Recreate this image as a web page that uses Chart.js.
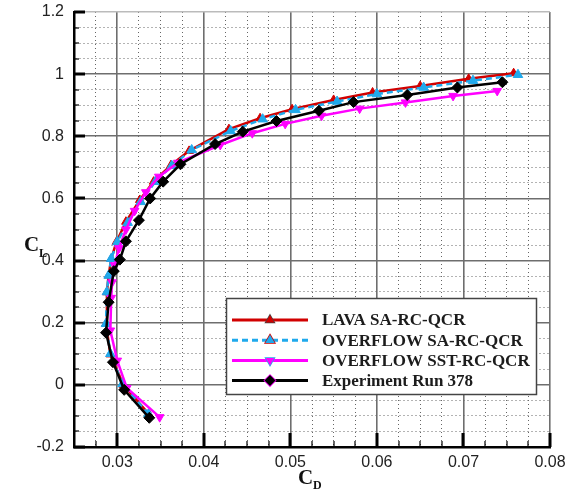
<!DOCTYPE html>
<html>
<head>
<meta charset="utf-8">
<script src="https://cdn.jsdelivr.net/npm/chart.js@4.4.1/dist/chart.umd.min.js"></script>
<style>
  html, body { margin: 0; padding: 0; background: #fff; }
</style>
</head>
<body>
<canvas id="dragPolar" width="566" height="493"></canvas>
<script>
// drag polar: C_D on x, C_L on y
const lavaCD = [0.0337, 0.0307, 0.0292, 0.0287, 0.0288, 0.0290, 0.0293, 0.0299, 0.0310, 0.0326, 0.0342, 0.0362, 0.0383, 0.0429, 0.0465, 0.0502, 0.0550, 0.0595, 0.0650, 0.0706, 0.0758];
const lavaCL = [-0.096, 0.000, 0.098, 0.197, 0.298, 0.352, 0.405, 0.460, 0.525, 0.595, 0.654, 0.707, 0.753, 0.823, 0.858, 0.887, 0.917, 0.941, 0.962, 0.985, 1.003];

const ovfSaCD = [0.0336, 0.0306, 0.0292, 0.0287, 0.0288, 0.0290, 0.0293, 0.0300, 0.0312, 0.0327, 0.0344, 0.0363, 0.0386, 0.0431, 0.0468, 0.0506, 0.0554, 0.0600, 0.0654, 0.0711, 0.0763];
const ovfSaCL = [-0.094, 0.003, 0.100, 0.197, 0.299, 0.352, 0.406, 0.460, 0.522, 0.589, 0.654, 0.705, 0.756, 0.817, 0.855, 0.885, 0.912, 0.936, 0.957, 0.979, 0.998];

const ovfSstCD = [0.0349, 0.0311, 0.0300, 0.0292, 0.0293, 0.0294, 0.0297, 0.0302, 0.0310, 0.0320, 0.0333, 0.0348, 0.0370, 0.0419, 0.0456, 0.0494, 0.0536, 0.0580, 0.0633, 0.0688, 0.0739];
const ovfSstCL = [-0.104, -0.010, 0.078, 0.175, 0.280, 0.330, 0.385, 0.440, 0.500, 0.560, 0.620, 0.670, 0.715, 0.772, 0.810, 0.840, 0.866, 0.889, 0.909, 0.930, 0.946];

const expCD = [0.0337, 0.0308, 0.0295, 0.0287, 0.0290, 0.0296, 0.0303, 0.0310, 0.0325, 0.0338, 0.0353, 0.0373, 0.0413, 0.0445, 0.0484, 0.0533, 0.0573, 0.0635, 0.0693, 0.0745];
const expCL = [-0.106, -0.016, 0.073, 0.168, 0.266, 0.366, 0.403, 0.462, 0.530, 0.600, 0.654, 0.710, 0.775, 0.815, 0.849, 0.882, 0.910, 0.933, 0.957, 0.974];

const seriesNames = ['LAVA SA-RC-QCR', 'OVERFLOW SA-RC-QCR', 'OVERFLOW SST-RC-QCR', 'Experiment Run 378'];

const xTicks = [0.03, 0.04, 0.05, 0.06, 0.07, 0.08];
const xTickLabels = ['0.03', '0.04', '0.05', '0.06', '0.07', '0.08'];
const yTicks = [-0.2, 0, 0.2, 0.4, 0.6, 0.8, 1.0, 1.2];
const yTickLabels = ['-0.2', '0', '0.2', '0.4', '0.6', '0.8', '1', '1.2'];

const pts = (xs, ys) => xs.map((x, i) => ({ x: x, y: ys[i] }));
const near = (a, b) => Math.abs(a - b) < 1e-7;
const majorIdx = (list, v) => list.findIndex(t => near(t, v));

// grid every 0.0025 in x, 0.05 in y
const xGrid = [];
for (let i = 0; i <= 22; i++) xGrid.push(+(0.025 + i * 0.0025).toFixed(4));
const yGrid = [];
for (let i = 0; i <= 28; i++) yGrid.push(+(-0.2 + i * 0.05).toFixed(2));

const gridStyle = (list) => ({
  color: c => {
    if (!c.tick) return '#666';
    if (near(c.tick.value, 1.2)) return '#bbbbbb';
    return majorIdx(list, c.tick.value) >= 0 ? '#6e6e6e' : '#666';
  },
  lineWidth: c => (c.tick && majorIdx(list, c.tick.value) >= 0) ? 1.6 : 1,
  drawTicks: false
});

// inward tick marks, axis titles and boxed legend
const decor = {
  id: 'decor',
  afterDatasetsDraw(chart) {
    const { ctx, chartArea: a, scales: { x, y } } = chart;
    ctx.save();
    ctx.strokeStyle = '#000';
    xGrid.forEach(v => {
      const px = Math.round(x.getPixelForValue(v));
      const major = majorIdx(xTicks, v) >= 0;
      ctx.lineWidth = major ? 3 : 1.2;
      ctx.beginPath();
      ctx.moveTo(px, a.bottom);
      ctx.lineTo(px, a.bottom - (major ? 14 : 6));
      ctx.stroke();
    });
    yGrid.forEach(v => {
      const py = Math.round(y.getPixelForValue(v));
      const major = majorIdx(yTicks, v) >= 0;
      ctx.lineWidth = major ? 3 : 1.2;
      ctx.beginPath();
      ctx.moveTo(a.left, py);
      ctx.lineTo(a.left + (major ? 11 : 5), py);
      ctx.stroke();
    });

    // axis titles
    ctx.fillStyle = '#111';
    ctx.textBaseline = 'alphabetic';
    ctx.textAlign = 'left';
    ctx.font = 'bold 21px "Liberation Serif"';
    ctx.fillText('C', 298, 484);
    ctx.fillText('C', 24, 251);
    ctx.font = 'bold 12px "Liberation Serif"';
    ctx.fillText('D', 313, 489);
    ctx.fillText('L', 39, 257);

    // legend
    const bx = a.left + 152, by = a.top + 286, bw = 310, bh = 96;
    ctx.fillStyle = '#fff';
    ctx.fillRect(bx, by, bw, bh);
    ctx.lineWidth = 1.5;
    ctx.strokeStyle = '#444';
    ctx.strokeRect(bx + 0.5, by + 0.5, bw, bh);
    chart.data.datasets.forEach((ds, i) => {
      const ly = by + 22 + i * 20.2;
      ctx.save();
      ctx.strokeStyle = ds.borderColor;
      ctx.lineWidth = 3;
      ctx.setLineDash(ds.borderDash || []);
      ctx.beginPath();
      ctx.moveTo(bx + 6, ly);
      ctx.lineTo(bx + 82, ly);
      ctx.stroke();
      ctx.restore();
      Chart.helpers.drawPoint(ctx, {
        pointStyle: ds.pointStyle,
        rotation: ds.pointRotation || 0,
        radius: ds.pointRadius,
        borderWidth: 1
      }, bx + 44, ly);
      ctx.fillStyle = ds.borderColor;
      ctx.strokeStyle = ds.borderColor;
      ctx.fill();
      ctx.fillStyle = '#1c1c1c';
      ctx.font = 'bold 17px "Liberation Serif"';
      ctx.textBaseline = 'middle';
      ctx.fillText(seriesNames[i], bx + 96, ly + 1);
    });
    ctx.restore();
  }
};

new Chart(document.getElementById('dragPolar'), {
  type: 'scatter',
  data: {
    datasets: [
      {
        label: seriesNames[0], data: pts(lavaCD, lavaCL), showLine: true,
        borderColor: '#d10000', backgroundColor: '#d10000', borderWidth: 2.5,
        pointStyle: 'triangle', pointRadius: 5, pointBorderWidth: 1, order: 3
      },
      {
        label: seriesNames[1], data: pts(ovfSaCD, ovfSaCL), showLine: true,
        borderColor: '#1fa9ec', backgroundColor: '#1fa9ec', borderWidth: 2.5, borderDash: [6, 4],
        pointStyle: 'triangle', pointRadius: 5.5, pointBorderWidth: 1, order: 2
      },
      {
        label: seriesNames[2], data: pts(ovfSstCD, ovfSstCL), showLine: true,
        borderColor: '#ff00ff', backgroundColor: '#ff00ff', borderWidth: 2.5,
        pointStyle: 'triangle', pointRotation: 180, pointRadius: 5, pointBorderWidth: 1, order: 1
      },
      {
        label: seriesNames[3], data: pts(expCD, expCL), showLine: true,
        borderColor: '#000', backgroundColor: '#000', borderWidth: 2.5,
        pointStyle: 'rectRot', pointRadius: 5.5, pointBorderWidth: 1, order: 0
      }
    ]
  },
  options: {
    responsive: false,
    animation: false,
    devicePixelRatio: 1,
    layout: { padding: { top: 12, right: 16, left: 0, bottom: 0 } },
    plugins: { legend: { display: false }, tooltip: { enabled: false } },
    scales: {
      x: {
        type: 'linear', min: 0.025, max: 0.08,
        afterBuildTicks: s => { s.ticks = xGrid.map(v => ({ value: v })); },
        afterFit: s => { s.height = 46; s.paddingLeft = 0; s.paddingRight = 0; },
        ticks: {
          autoSkip: false, maxRotation: 0, padding: 6, color: '#222',
          font: { family: '"Liberation Sans", Arial', size: 16 },
          callback: v => { const k = majorIdx(xTicks, v); return k >= 0 ? xTickLabels[k] : ''; }
        },
        grid: gridStyle(xTicks),
        border: {
          color: '#000', width: 2.5,
          dash: c => (c.tick && majorIdx(xTicks, c.tick.value) < 0) ? [1, 3] : []
        }
      },
      y: {
        type: 'linear', min: -0.2, max: 1.2,
        afterBuildTicks: s => { s.ticks = yGrid.map(v => ({ value: v })); },
        afterFit: s => { s.width = 74; s.paddingTop = 0; s.paddingBottom = 0; },
        ticks: {
          autoSkip: false, padding: 10, color: '#222',
          font: { family: '"Liberation Sans", Arial', size: 16 },
          callback: v => { const k = majorIdx(yTicks, v); return k >= 0 ? yTickLabels[k] : ''; }
        },
        grid: gridStyle(yTicks),
        border: {
          color: '#000', width: 2.5,
          dash: c => (c.tick && majorIdx(yTicks, c.tick.value) < 0) ? [1, 3] : []
        }
      }
    }
  },
  plugins: [decor]
});
</script>
</body>
</html>
